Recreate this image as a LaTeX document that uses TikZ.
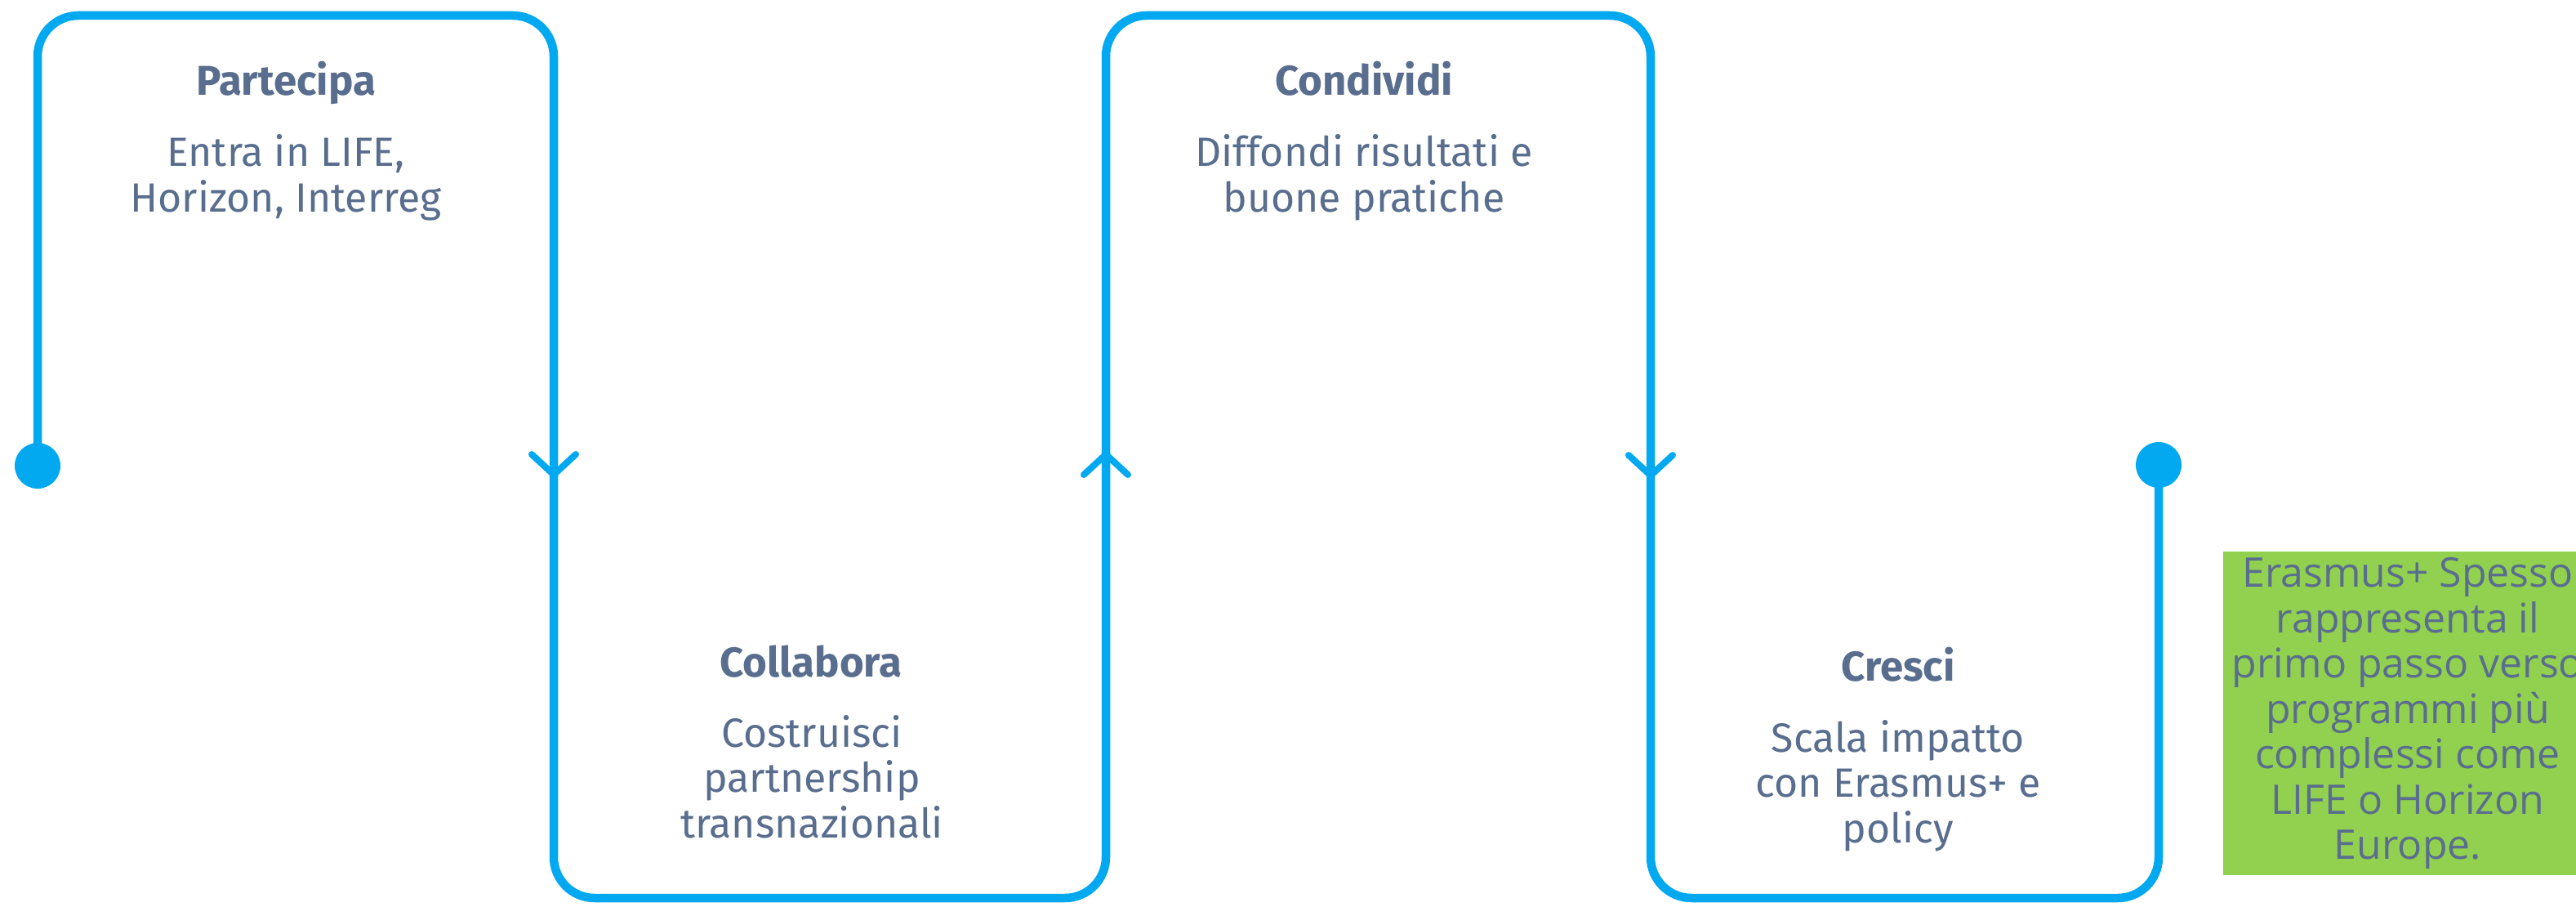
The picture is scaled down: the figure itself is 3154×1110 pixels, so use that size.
\documentclass[tikz,border=0pt]{standalone}
\usepackage{fontspec}
\setmainfont{Fira Sans}
\newfontfamily\greenfont{Open Sans}
\usetikzlibrary{calc}
\definecolor{flowblue}{HTML}{03A9F0}
\definecolor{slate}{HTML}{596E8E}
\definecolor{notegreen}{HTML}{92D050}
\begin{document}
\begin{tikzpicture}[x=1pt,y=-1pt,
  flow/.style={draw=flowblue,line width=10.5pt,rounded corners=50pt},
  chev/.style={draw=flowblue,line width=8pt,line cap=round,line join=round},
  enddot/.style={circle,fill=flowblue,minimum size=56pt,inner sep=0pt},
  steptitle/.style={font=\fontsize{51}{56}\selectfont\bfseries,text=slate,anchor=base,inner sep=0pt},
  stepbody/.style={font=\fontsize{50}{55.5}\selectfont,text=slate,align=center,anchor=base,inner sep=0pt},
  notebox/.style={rectangle,fill=notegreen,minimum width=452pt,minimum height=396pt,inner sep=0pt,
    align=center,text=slate,font=\greenfont\fontsize{50}{55.5}\selectfont}]
\clip (0,0) rectangle (3154,1110);
\fill[white] (0,0) rectangle (3154,1110);
% corners of the serpentine path
\coordinate (k1) at (46,19);
\coordinate (k2) at (678,19);
\coordinate (k3) at (678,1099);
\coordinate (k4) at (1354,1099);
\coordinate (k5) at (1354,19);
\coordinate (k6) at (2021,19);
\coordinate (k7) at (2021,1099);
\coordinate (k8) at (2643,1099);
\coordinate (startpt) at (46,570);
\coordinate (endpt) at (2643,569);
\draw[flow] (startpt) -- (k1) -- (k2) -- (k3) -- (k4) -- (k5) -- (k6) -- (k7) -- (k8) -- (endpt);
\node[enddot] (dotA) at (startpt) {};
\node[enddot] (dotB) at (endpt) {};
% chevrons
\coordinate (c1) at (678,581);
\coordinate (c2) at (1354,556);
\coordinate (c3) at (2021,582);
\draw[chev] ($(c1)+(-27,-25)$) -- (c1) -- ($(c1)+(27,-25)$);
\draw[chev] ($(c2)+(-27,25)$) -- (c2) -- ($(c2)+(27,25)$);
\draw[chev] ($(c3)+(-27,-25)$) -- (c3) -- ($(c3)+(27,-25)$);
% texts (body nodes anchored at the baseline of their last line)
\node[steptitle] (t1) at (350,117) {Partecipa};
\node[stepbody] (b1) at (350,259) {Entra in LIFE,\\Horizon, Interreg};
\node[steptitle] (t2) at (993,828) {Collabora};
\node[stepbody] (b2) at (994,1025) {Costruisci\\partnership\\transnazionali};
\node[steptitle] (t3) at (1670,117) {Condividi};
\node[stepbody] (b3) at (1670,259) {Diffondi risultati e\\buone pratiche};
\node[steptitle] (t4) at (2324,833) {Cresci};
\node[stepbody] (b4) at (2324,1031) {Scala impatto\\con Erasmus+ e\\policy};
\node[notebox] (note) at (2948,873) {Erasmus+ Spesso\\rappresenta il\\primo passo verso\\programmi più\\complessi come\\LIFE o Horizon\\Europe.};
\end{tikzpicture}
\end{document}
